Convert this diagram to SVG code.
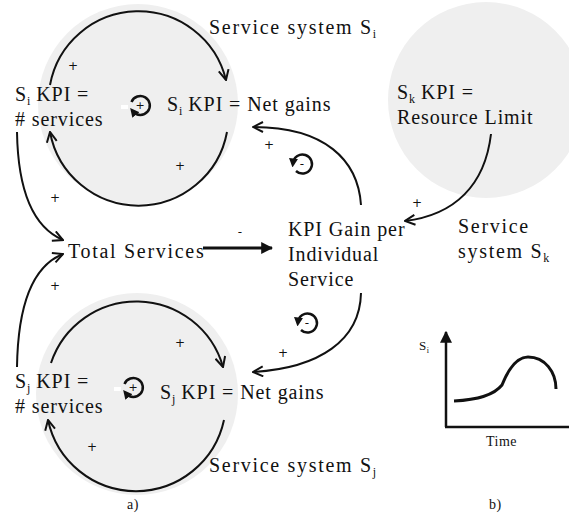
<svg xmlns="http://www.w3.org/2000/svg" width="569" height="519" viewBox="0 0 569 519">
<style>
.t{font-family:"Liberation Serif","Times New Roman",serif;font-size:20px;letter-spacing:0.9px;fill:#111}
.w{letter-spacing:1.7px}
.s{font-size:12px;letter-spacing:0}
.p{font-family:"DejaVu Sans","Liberation Sans",sans-serif;font-size:12px;fill:#111;text-anchor:middle}
.sm{font-family:"Liberation Serif","Times New Roman",serif;font-size:14px;letter-spacing:0.5px;fill:#111}
.bg{fill:#efefef}
.ln{fill:none;stroke:#111;stroke-width:2}
.lp{fill:none;stroke:#111;stroke-width:2.5}
</style>
<defs>
<marker id="open" viewBox="0 0 12 12" refX="11" refY="6" markerWidth="12" markerHeight="12" markerUnits="userSpaceOnUse" orient="auto">
<path d="M1,1 L11,6 L1,11" fill="none" stroke="#111" stroke-width="2"/>
</marker>
<marker id="tri" viewBox="0 0 10 10" refX="5" refY="5" markerWidth="9" markerHeight="9" markerUnits="userSpaceOnUse" orient="auto">
<path d="M0,0 L10,5 L0,10 Z" fill="#111"/>
</marker>
<marker id="big" viewBox="0 0 10 10" refX="9" refY="5" markerWidth="12" markerHeight="12" markerUnits="userSpaceOnUse" orient="auto">
<path d="M0,0 L10,5 L0,10 Z" fill="#111"/>
</marker>
</defs>

<g id="backgrounds">
<circle class="bg" cx="138" cy="104" r="100"/>
<circle class="bg" cx="137" cy="394" r="101"/>
<circle class="bg" cx="486" cy="100" r="98"/>
</g>

<g id="loop-i">
<path class="ln" d="M50,85 A90,90 0 0 1 226,80" marker-end="url(#open)"/>
<path class="ln" d="M227,132 A90,90 0 0 1 50,132" marker-end="url(#open)"/>
<text class="p" x="73" y="70">+</text>
<text class="p" x="180" y="170">+</text>
<path class="lp" d="M131.5,102 A9.5,9.5 0 1 1 133,111.5" marker-end="url(#tri)"/>
<text class="p" x="140" y="109" style="font-size:11px">+</text>
<rect x="121" y="105" width="7" height="4" fill="#fff"/>
</g>

<g id="loop-j">
<path class="ln" d="M51,363 A90,90 0 0 1 223,367" marker-end="url(#open)"/>
<path class="ln" d="M224,420 A90,90 0 0 1 48,420" marker-end="url(#open)"/>
<text class="p" x="180" y="347">+</text>
<text class="p" x="92" y="451">+</text>
<path class="lp" d="M124.5,384 A9.5,9.5 0 1 1 126,393.5" marker-end="url(#tri)"/>
<text class="p" x="133" y="391" style="font-size:11px">+</text>
<rect x="114" y="387" width="7" height="4" fill="#fff"/>
</g>

<g id="loop-neg1">
<path class="lp" d="M296,171 A9.5,9.5 0 1 0 293,163" marker-end="url(#tri)"/>
<text class="p" x="302" y="168">-</text>
</g>
<g id="loop-neg2">
<path class="lp" d="M301,330 A9.5,9.5 0 1 0 298,322" marker-end="url(#tri)"/>
<text class="p" x="307" y="327">-</text>
</g>

<g id="connectors">
<path class="ln" d="M17,132 C18,195 35,228 63,240" marker-end="url(#open)"/>
<path class="ln" d="M17,367 C18,300 35,265 63,254" marker-end="url(#open)"/>
<path class="ln" d="M361,205 C358,160 325,127 253,127" marker-end="url(#open)"/>
<path class="ln" d="M361,293 C360,340 320,368 253,372" marker-end="url(#open)"/>
<path class="ln" d="M491,134 C485,185 455,215 405,221" marker-end="url(#open)"/>
<line x1="203" y1="248" x2="272" y2="248" stroke="#111" stroke-width="3" marker-end="url(#big)"/>
<text class="p" x="55" y="202">+</text>
<text class="p" x="55" y="290">+</text>
<text class="p" x="269" y="149">+</text>
<text class="p" x="283" y="357">+</text>
<text class="p" x="417" y="207">+</text>
<text class="p" x="240" y="236">-</text>
</g>

<g id="node-si-services">
<text class="t" x="15" y="101">S<tspan class="s" dy="4">i</tspan><tspan dy="-4"> KPI =</tspan></text>
<text class="t" x="15" y="126"># services</text>
</g>
<g id="node-si-gains">
<text class="t" x="167" y="111">S<tspan class="s" dy="4">i</tspan><tspan dy="-4"> KPI = Net gains</tspan></text>
</g>
<g id="label-si">
<text class="t w" x="209" y="34">Service system S<tspan class="s" dy="4">i</tspan></text>
</g>
<g id="node-sk">
<text class="t" x="397" y="99">S<tspan class="s" dy="4">k</tspan><tspan dy="-4"> KPI =</tspan></text>
<text class="t" x="397" y="124">Resource Limit</text>
</g>
<g id="label-sk">
<text class="t w" x="458" y="233">Service</text>
<text class="t w" x="458" y="258">system S<tspan class="s" dy="4">k</tspan></text>
</g>
<g id="node-total">
<text class="t w" x="68" y="258">Total Services</text>
</g>
<g id="node-gain">
<text class="t" x="288" y="236">KPI Gain per</text>
<text class="t" x="288" y="261">Individual</text>
<text class="t" x="288" y="286">Service</text>
</g>
<g id="node-sj-services">
<text class="t" x="15" y="388">S<tspan class="s" dy="4">j</tspan><tspan dy="-4"> KPI =</tspan></text>
<text class="t" x="15" y="413"># services</text>
</g>
<g id="node-sj-gains">
<text class="t" x="160" y="399">S<tspan class="s" dy="4">j</tspan><tspan dy="-4"> KPI = Net gains</tspan></text>
</g>
<g id="label-sj">
<text class="t w" x="209" y="472">Service system S<tspan class="s" dy="4">j</tspan></text>
</g>

<g id="chart">
<line x1="446" y1="427" x2="446" y2="332" stroke="#111" stroke-width="2.5" marker-end="url(#big)"/>
<line x1="445" y1="427" x2="569" y2="427" stroke="#111" stroke-width="2.5"/>
<path d="M454,401 C475,400 494,395 502,385 C510,365 518,357 528,357 C545,357 556,372 556,389" fill="none" stroke="#111" stroke-width="3"/>
<text class="sm" x="419" y="350" style="font-size:13px">S<tspan style="font-size:8px" dy="3">i</tspan></text>
<text class="sm" x="486" y="446">Time</text>
</g>

<text class="sm" x="127" y="509">a)</text>
<text class="sm" x="489" y="509">b)</text>
</svg>
